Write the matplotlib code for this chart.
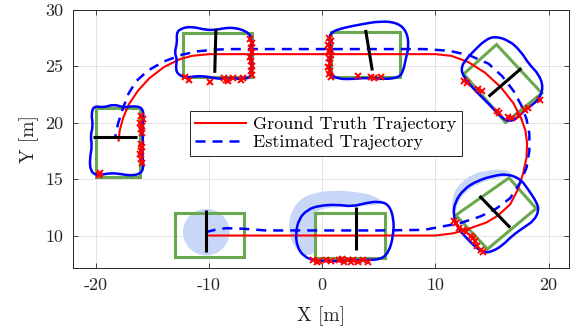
import numpy as np
import matplotlib.pyplot as plt
from matplotlib.path import Path
from matplotlib.patches import PathPatch, Polygon, Circle

plt.rcParams.update({
    'font.family': ['cmr10', 'DejaVu Serif'],
    'axes.unicode_minus': False,
    'axes.formatter.use_mathtext': False,
})

# ground truth trajectory (red)
gt_x = [-10.0, 0.0, 10.0, 11.6, 12.8, 14.5, 15.5, 16.6, 17.3, 17.75, 18.05, 18.1, 17.95,
        17.6, 16.9, 15.8, 14.4, 12.9, 11.4, 10.0, 0.0, -10.0, -11.5, -12.6, -14.0,
        -15.3, -16.3, -17.1, -17.6, -17.9, -18.0]
gt_y = [10.0, 10.0, 10.0, 10.2, 10.55, 11.15, 11.75, 12.75, 14.1, 15.5, 16.9, 18.2, 19.3,
        20.3, 21.7, 23.1, 24.4, 25.35, 25.9, 26.05, 26.05, 26.05, 25.9, 25.6, 24.9,
        23.9, 22.8, 21.6, 20.4, 19.3, 18.4]

# estimated trajectory (blue dashed)
est_x = [-10.3, -9.5, -8.5, -7.0, -5.0, 0.0, 5.0, 9.0, 10.6, 12.2, 14.0, 15.4, 16.6, 17.5,
         18.05, 18.3, 18.3, 18.05, 17.6, 16.9, 15.9, 14.7, 13.0, 11.2, 9.0, 0.0, -8.0,
         -9.5, -11.0, -12.4, -14.0, -15.4, -16.4, -17.1, -17.6, -18.05, -18.3]
est_y = [10.3, 10.5, 10.65, 10.6, 10.45, 10.45, 10.45, 10.5, 10.8, 11.1, 11.7, 12.4, 13.3,
         14.7, 16.0, 17.5, 19.0, 20.3, 21.5, 22.8, 24.1, 25.2, 25.95, 26.35, 26.5, 26.5,
         26.5, 26.45, 26.3, 26.0, 25.4, 24.6, 23.7, 22.6, 21.3, 19.9, 18.7]

# ground truth boxes (green), corners
box_A = [(-20.0, 15.2), (-16.1, 15.2), (-16.1, 21.3), (-20.0, 21.3)]
box_B = [(-12.3, 24.0), (-6.25, 24.0), (-6.25, 27.9), (-12.3, 27.9)]
box_C = [(0.8, 24.0), (6.9, 24.0), (6.9, 28.0), (0.8, 28.0)]
box_D = [(15.4, 26.9), (19.4, 22.6), (16.2, 20.0), (12.5, 24.3)]
box_E = [(16.5, 15.1), (18.9, 12.4), (14.6, 8.8), (11.8, 11.8)]
box_F = [(-0.6, 8.0), (5.5, 8.0), (5.5, 12.0), (-0.6, 12.0)]
box_G = [(-13.0, 8.1), (-6.9, 8.1), (-6.9, 12.0), (-13.0, 12.0)]
boxes = [box_A, box_B, box_C, box_D, box_E, box_F, box_G]

# heading segments (black)
head_x = [(-20.3, -16.4), (-9.4, -9.5), (3.83, 4.42), (14.7, 17.6), (13.9, 16.6), (2.94, 2.94), (-10.25, -10.25)]
head_y = [(18.7, 18.7), (28.3, 24.4), (28.2, 24.6), (22.3, 24.8), (13.5, 10.7), (12.56, 8.7), (12.3, 8.5)]

# estimated extent contours (blue)
cont_A = [(-20.19, 21.47), (-19.31, 21.32), (-18.43, 21.62), (-17.54, 21.32), (-16.66, 21.47),
          (-15.92, 21.32), (-15.77, 20.59), (-15.92, 19.42), (-15.83, 18.24), (-15.92, 17.06),
          (-15.77, 16.03), (-16.07, 15.45), (-16.95, 15.3), (-17.83, 15.45), (-18.72, 15.53),
          (-19.6, 15.36), (-20.04, 15.36), (-20.49, 15.74), (-20.55, 16.77), (-20.34, 17.94),
          (-20.49, 18.83), (-20.25, 19.71), (-20.42, 20.74)]
cont_B = [(-12.68, 28.24), (-11.64, 28.53), (-9.88, 28.09), (-8.11, 28.47), (-6.63, 28.09),
          (-6.19, 27.36), (-6.34, 25.89), (-6.19, 24.71), (-6.34, 23.97), (-7.22, 23.83),
          (-8.11, 23.97), (-8.99, 23.83), (-10.17, 24.06), (-11.05, 24.12), (-11.94, 23.97),
          (-12.68, 24.18), (-12.97, 24.71), (-12.82, 25.6), (-13.06, 26.18), (-12.82, 27.06),
          (-12.88, 27.8)]
cont_C = [(0.73, 28.0), (1.91, 28.39), (3.39, 28.68), (5.15, 28.98), (6.63, 28.83),
          (7.45, 28.09), (7.66, 26.77), (7.37, 25.6), (7.16, 24.56), (6.77, 23.97),
          (5.45, 23.83), (3.98, 23.97), (2.5, 23.83), (1.33, 23.88), (0.73, 24.27),
          (0.58, 25.3), (0.88, 26.33), (0.58, 27.21)]
cont_D = [(15.17, 27.65), (16.5, 27.27), (17.53, 26.33), (18.27, 25.15), (19.15, 24.27),
          (19.54, 23.09), (19.15, 22.06), (18.42, 21.47), (17.68, 20.88), (17.09, 20.3),
          (16.5, 20.09), (15.92, 20.39), (15.17, 21.18), (14.29, 22.06), (13.4, 22.95),
          (12.52, 23.97), (12.23, 24.85), (12.82, 25.74), (13.55, 26.48), (14.29, 27.21)]
cont_E = [(16.36, 15.45), (17.53, 15.0), (18.27, 13.97), (18.95, 12.94), (19.15, 12.21),
          (18.71, 11.32), (17.83, 10.73), (16.8, 10.0), (15.92, 9.12), (15.03, 8.59),
          (14.29, 8.47), (13.55, 8.97), (12.67, 9.85), (11.94, 10.73), (11.58, 11.77),
          (11.7, 12.94), (12.52, 14.12), (13.7, 14.85), (15.17, 15.3)]
cont_F = [(-2.36, 10.15), (-2.07, 11.47), (-1.33, 12.27), (-0.3, 12.65), (1.33, 12.74),
          (2.65, 12.56), (3.83, 12.88), (5.0, 13.03), (5.89, 12.74), (6.33, 11.47),
          (6.28, 10.0), (5.89, 8.53), (5.15, 7.86), (3.68, 7.86), (2.21, 7.79),
          (0.73, 7.71), (-0.74, 7.79), (-1.63, 8.15), (-2.21, 8.97)]
contours = [cont_A, cont_B, cont_C, cont_D, cont_E, cont_F]

# uncertainty regions (light blue)
blob_E = [(11.55, 12.0), (11.45, 12.7), (11.6, 13.75), (12.2, 14.65), (13.2, 15.4),
          (14.59, 15.78), (15.92, 15.85), (16.8, 15.6), (16.4, 15.2), (15.2, 15.05),
          (13.8, 14.6), (12.7, 13.9), (11.95, 12.9), (11.8, 12.0)]
blob_F = [(-1.9, 8.45), (-2.5, 9.0), (-3.0, 10.4), (-2.85, 11.9), (-1.95, 13.3), (-0.45, 13.85),
          (1.3, 14.0), (3.1, 13.85), (4.55, 13.55), (5.45, 12.95), (5.0, 12.75), (3.8, 12.65),
          (2.6, 12.45), (1.3, 12.55), (-0.3, 12.3), (-0.55, 11.9), (-0.6, 8.5), (-1.2, 8.2)]
blob_G_center = (-10.25, 10.3)
blob_G_radius = 2.06

# measurements (red x)
meas_x = [-16.0, -15.85, -16.1, -15.9, -16.0, -15.95, -16.0, -15.9, -16.0, -16.1, -16.0, -15.9, -19.75, -19.6,
          -6.4, -6.2, -6.3, -6.2, -6.4, -6.3, -6.2, -6.3, -6.25,
          -12.1, -11.8, -9.9, -8.7, -8.5, -8.3, -7.9, -7.2, -7.0,
          0.6, 0.8, 0.5, 0.7, 0.6, 0.8, 0.6, 0.7, 0.5, 0.7, 0.6, 0.75,
          3.2, 4.3, 4.6, 5.15,
          12.5, 12.8, 13.8, 14.1, 15.4, 15.6, 16.4, 16.8, 17.4, 17.9, 18.2, 19.2,
          11.6, 11.8, 12.1, 12.4, 12.7, 13.1, 13.3, 13.5, 13.7, 14.0, 14.2,
          -0.8, -0.5, -0.3, 0.3, 0.8, 1.5, 1.7, 1.9, 2.3, 2.5, 2.7, 3.2, 3.6, 4.0]
meas_y = [20.6, 20.3, 20.0, 19.7, 19.4, 19.1, 18.1, 17.8, 17.5, 17.2, 16.8, 16.4, 15.4, 15.5,
          27.4, 27.0, 26.6, 26.2, 25.8, 25.4, 25.0, 24.6, 24.2,
          24.0, 23.8, 23.6, 23.9, 23.75, 23.7, 23.9, 23.8, 23.9,
          27.5, 27.2, 26.9, 26.6, 26.3, 26.0, 25.7, 25.3, 24.9, 24.6, 24.3, 24.0,
          24.1, 24.0, 23.9, 24.0,
          23.7, 23.5, 23.0, 22.8, 21.0, 20.8, 20.5, 20.4, 20.6, 21.1, 21.3, 22.0,
          11.3, 11.1, 10.7, 10.5, 10.3, 10.0, 9.8, 9.5, 9.1, 8.7, 8.5,
          7.8, 7.7, 7.75, 7.8, 7.75, 7.8, 7.9, 7.7, 7.8, 7.7, 7.85, 7.7, 7.8, 7.65]


def smooth_closed(points):
    pts = np.array(points)
    mids = (pts + np.roll(pts, -1, axis=0)) / 2
    verts = [mids[-1]]
    codes = [Path.MOVETO]
    for p, m in zip(pts, mids):
        verts += [p, m]
        codes += [Path.CURVE3, Path.CURVE3]
    return Path(verts, codes)


fig = plt.figure(figsize=(5.75, 3.27), dpi=100)
ax = fig.add_axes([0.1275, 0.1795, 0.862, 0.7914])

light = '#c8d7f8'
for blob in [blob_E, blob_F]:
    ax.add_patch(PathPatch(smooth_closed(blob), facecolor=light, edgecolor='none', zorder=1))
ax.add_patch(Circle(blob_G_center, blob_G_radius, facecolor=light, edgecolor='none', zorder=1))

for box in boxes:
    ax.add_patch(Polygon(box, closed=True, fill=False, edgecolor='#6aa84f', linewidth=2.2,
                         joinstyle='miter', zorder=2))

ax.plot(gt_x, gt_y, color='red', linewidth=1.5, zorder=3, label='Ground Truth Trajectory')
ax.plot(est_x, est_y, color='blue', linewidth=1.8, linestyle=(0, (4, 2.8)), zorder=4,
        label='Estimated Trajectory')

for c in contours:
    ax.add_patch(PathPatch(smooth_closed(c), fill=False, edgecolor='blue', linewidth=1.8, zorder=5))

for hx, hy in zip(head_x, head_y):
    ax.plot(hx, hy, color='black', linewidth=2.2, solid_capstyle='butt', zorder=6)

ax.plot(meas_x, meas_y, linestyle='none', marker='x', color='red', markersize=4.5,
        markeredgewidth=1.4, zorder=7)

ax.set_xlim(-22, 21.8)
ax.set_ylim(7.1, 30)
ax.set_xticks([-20, -10, 0, 10, 20])
ax.set_yticks([10, 15, 20, 25, 30])
ax.grid(True, color='#e3e3e3', linewidth=0.7)
ax.set_axisbelow(True)
ax.tick_params(direction='in', top=True, right=True, length=3.5, width=0.6,
               colors='#262626', labelsize=13, pad=7)
for s in ax.spines.values():
    s.set_color('#262626')
    s.set_linewidth(0.7)
ax.set_xlabel('X [m]', fontsize=14, color='#262626', labelpad=9)
ax.set_ylabel('Y [m]', fontsize=14, color='#262626', labelpad=5)

leg = ax.legend(loc='upper left', bbox_to_anchor=(0.235, 0.609), borderaxespad=0,
                fontsize=13, handlelength=2.8, handletextpad=0.4, borderpad=0.3,
                labelspacing=0.15, fancybox=False, framealpha=1, edgecolor='#262626')
leg.get_frame().set_linewidth(0.7)
leg.set_zorder(10)

fig.savefig('out.png', dpi=100)
